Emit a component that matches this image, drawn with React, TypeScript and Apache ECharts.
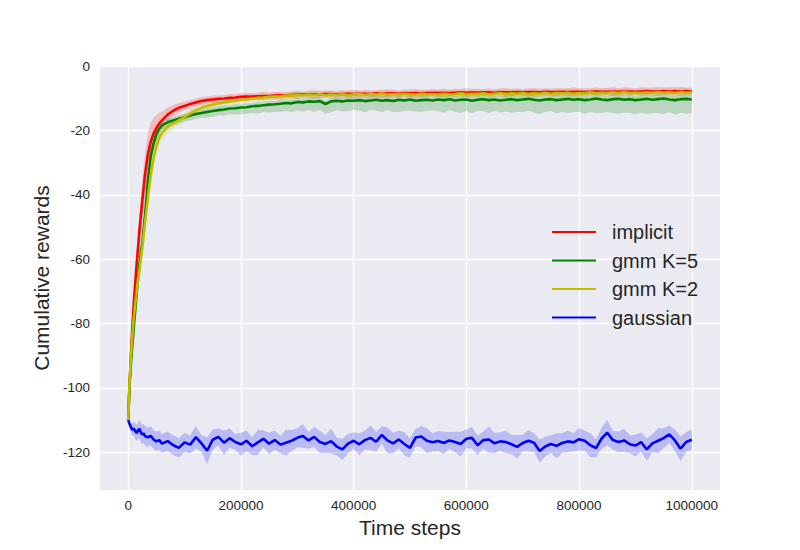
import React, { useEffect, useRef } from "react";
import * as echarts from "echarts";

// Time steps in thousands
const stepsK = [
  0, 2.5, 5, 7.5, 10, 12.5, 15, 17.5, 20, 22.5, 25, 27.5, 30, 35, 40, 45, 50, 55, 60, 70, 80, 90, 100,
  110, 120, 130, 140, 150, 160, 170, 180, 190, 200,
  210, 220, 230, 240, 250, 260, 270, 280, 290, 300,
  310, 320, 330, 340, 350, 360, 370, 380, 390, 400,
  410, 420, 430, 440, 450, 460, 470, 480, 490, 500,
  510, 520, 530, 540, 550, 560, 570, 580, 590, 600,
  610, 620, 630, 640, 650, 660, 670, 680, 690, 700,
  710, 720, 730, 740, 750, 760, 770, 780, 790, 800,
  810, 820, 830, 840, 850, 860, 870, 880, 890, 900,
  910, 920, 930, 940, 950, 960, 970, 980, 990, 1000,
];

const implicitMean = [
  -110, -98.5, -89.5, -81, -73.5, -67.5, -61.5, -56.5, -51, -46.5, -42, -37.8, -33.5, -27.5, -23.5, -21, -19.3, -17.9, -16.9, -15.1, -13.9, -13.0, -12.4,
  -11.8, -11.3, -10.9, -10.6, -10.4, -10.2, -10.1, -9.9, -9.8, -9.6,
  -9.5, -9.5, -9.4, -9.3, -9.3, -9.2, -9.1, -9.1, -9.0, -8.9,
  -8.9, -8.8, -8.8, -8.8, -8.7, -8.7, -8.8, -8.7, -8.6, -8.7,
  -8.6, -8.6, -8.7, -8.5, -8.6, -8.5, -8.5, -8.6, -8.4, -8.5,
  -8.4, -8.5, -8.4, -8.3, -8.4, -8.3, -8.4, -8.3, -8.2, -8.3,
  -8.2, -8.3, -8.2, -8.2, -8.3, -8.1, -8.2, -8.2, -8.1, -8.2,
  -8.1, -8.1, -8.2, -8.0, -8.1, -8.1, -8.0, -8.1, -8.0, -8.0,
  -8.1, -8.0, -7.9, -8.0, -8.0, -7.9, -8.0, -7.9, -7.9, -8.0,
  -7.9, -7.8, -7.9, -7.9, -7.8, -7.9, -7.8, -7.9, -7.8, -7.9,
];
const implicitSpread = [
  0.5, 1.5, 2.5, 3, 3.5, 4, 4.5, 5, 5.5, 6, 6.5, 6.5, 6.5, 6.5, 6, 5, 4, 3.3, 2.8, 2.2, 1.8, 1.6, 1.4,
  1.3, 1.2, 1.3, 1.1, 1.2, 1.0, 1.1, 1.2, 1.0, 1.1,
  1.2, 1.0, 1.1, 1.3, 1.0, 1.1, 1.2, 1.0, 1.1, 1.2,
  1.0, 1.1, 1.3, 1.0, 1.2, 1.1, 1.0, 1.2, 1.1, 1.3,
  1.0, 1.2, 1.1, 1.0, 1.3, 1.1, 1.2, 1.0, 1.1, 1.2,
  1.3, 1.1, 1.0, 1.2, 1.1, 1.3, 1.0, 1.2, 1.1, 1.4,
  1.1, 1.2, 1.0, 1.3, 1.1, 1.2, 1.4, 1.1, 1.2, 1.0,
  1.2, 1.3, 1.1, 1.2, 1.0, 1.3, 1.1, 1.2, 1.4, 1.1,
  1.2, 1.0, 1.3, 1.1, 1.2, 1.4, 1.1, 1.3, 1.2, 1.0,
  1.3, 1.1, 1.2, 1.4, 1.1, 1.3, 1.2, 1.4, 1.1, 1.3,
];

const gmm5Mean = [
  -110, -99, -92, -86.5, -81, -76, -71, -66, -61.5, -58, -55, -50.5, -46, -35.5, -28, -24, -21.2, -19.5, -18.4, -17.5, -16.9, -16.4, -15.9,
  -15.4, -14.9, -14.6, -14.3, -14.0, -13.7, -13.5, -13.2, -13.1, -12.9,
  -12.8, -12.5, -12.4, -12.2, -12.0, -11.9, -11.7, -11.5, -11.6, -11.2,
  -11.3, -11.0, -11.1, -10.9, -11.8, -11.0, -10.8, -11.0, -10.7, -10.8,
  -10.6, -10.9, -10.7, -10.5, -10.8, -10.6, -10.9, -10.5, -10.7, -10.4,
  -10.8, -10.6, -10.5, -10.7, -10.4, -10.6, -10.3, -10.7, -10.5, -10.4,
  -10.8, -10.5, -10.3, -10.6, -10.4, -10.7, -10.5, -10.3, -10.6, -10.4,
  -10.2, -10.5, -10.7, -10.4, -10.3, -10.6, -10.4, -10.2, -10.5, -10.3,
  -10.6, -10.4, -10.1, -10.4, -10.6, -10.3, -10.2, -10.5, -10.3, -10.6,
  -10.4, -10.2, -10.5, -10.3, -10.1, -10.4, -10.6, -10.3, -10.2, -10.4,
];
const gmm5Up = [
  0.5, 1, 1.5, 1.5, 2, 2, 2, 2, 2, 2, 2, 2, 2, 2, 2, 1.8, 1.5, 1.3, 1.2, 1.1, 1.0, 1.0, 1.0,
  1.0, 1.1, 0.9, 1.2, 1.0, 1.1, 1.3, 1.0, 1.2, 1.1,
  1.2, 1.0, 1.3, 1.1, 1.2, 1.0, 1.4, 1.1, 1.2, 1.3,
  1.1, 1.3, 1.2, 1.4, 1.1, 1.2, 1.3, 1.1, 1.4, 1.2,
  1.3, 1.1, 1.4, 1.2, 1.3, 1.5, 1.2, 1.3, 1.1, 1.4,
  1.2, 1.4, 1.3, 1.1, 1.5, 1.2, 1.3, 1.4, 1.2, 1.3,
  1.5, 1.2, 1.4, 1.3, 1.1, 1.4, 1.3, 1.5, 1.2, 1.4,
  1.3, 1.5, 1.2, 1.4, 1.3, 1.6, 1.2, 1.4, 1.3, 1.5,
  1.2, 1.4, 1.6, 1.3, 1.2, 1.5, 1.4, 1.3, 1.5, 1.2,
  1.4, 1.6, 1.3, 1.5, 1.4, 1.2, 1.5, 1.3, 1.6, 1.4,
];
const gmm5Down = [
  0.5, 1, 1.5, 1.5, 2, 2, 2, 2, 2, 2, 2, 2, 2, 2, 2, 1.8, 1.5, 1.4, 1.3, 1.3, 1.3, 1.3, 1.4,
  1.5, 1.6, 1.5, 1.7, 1.8, 1.6, 1.9, 1.8, 2.0, 2.1,
  2.0, 2.2, 2.4, 2.1, 2.5, 2.3, 2.6, 2.4, 2.8, 2.6,
  2.9, 2.7, 3.2, 2.8, 3.0, 3.4, 2.9, 3.1, 3.3, 2.8,
  3.2, 3.5, 3.0, 3.3, 3.6, 3.1, 3.4, 3.8, 3.2, 3.5,
  3.3, 3.7, 3.4, 3.1, 3.6, 3.9, 3.4, 3.5, 4.1, 3.6,
  3.8, 3.4, 3.7, 4.0, 3.5, 3.8, 3.6, 4.2, 3.7, 3.9,
  3.6, 4.0, 4.3, 3.8, 3.7, 4.1, 3.9, 4.4, 3.8, 4.0,
  4.2, 3.9, 4.5, 4.1, 3.8, 4.3, 4.6, 4.0, 4.2, 4.4,
  4.1, 4.7, 4.2, 4.4, 4.8, 4.0, 4.5, 4.3, 4.6, 4.2,
];

const gmm2Mean = [
  -110, -98, -90, -83.5, -78, -74, -70, -66.5, -63.5, -60, -56.5, -52.5, -48.5, -41, -34, -28.5, -25, -22.3, -20.8, -18.9, -17.8, -16.8, -15.9,
  -14.8, -13.8, -13.0, -12.4, -12.0, -11.6, -11.3, -11.0, -10.8, -10.5,
  -10.3, -10.1, -9.9, -9.8, -9.6, -9.5, -9.4, -9.2, -9.2, -9.0,
  -9.1, -8.9, -9.0, -8.8, -9.1, -8.9, -9.0, -8.8, -9.1, -8.9,
  -8.7, -9.0, -8.8, -8.9, -8.6, -8.9, -8.7, -8.9, -8.6, -8.8,
  -8.9, -8.6, -8.8, -8.7, -8.9, -8.6, -8.8, -8.7, -8.5, -8.8,
  -8.6, -8.7, -8.5, -8.8, -8.6, -8.4, -8.7, -8.5, -8.6, -8.4,
  -8.7, -8.5, -8.6, -8.3, -8.6, -8.4, -8.5, -8.3, -8.6, -8.4,
  -8.5, -8.2, -8.5, -8.3, -8.4, -8.2, -8.5, -8.1, -8.4, -8.3,
  -8.4, -8.2, -8.4, -8.1, -8.3, -8.2, -8.4, -8.1, -8.3, -8.2,
];
const gmm2Spread = [
  0.5, 1.5, 2, 2.5, 3, 3, 3, 3, 3, 3, 3, 3, 3, 3, 3, 2.8, 2.5, 2.2, 2, 1.8, 1.6, 1.5, 1.4,
  1.4, 1.3, 1.2, 1.3, 1.1, 1.2, 1.0, 1.1, 1.2, 1.0,
  1.1, 0.9, 1.0, 1.2, 1.0, 1.1, 0.9, 1.0, 1.2, 1.0,
  1.1, 0.9, 1.2, 1.0, 1.1, 1.3, 1.0, 0.9, 1.1, 1.2,
  1.0, 1.1, 0.9, 1.2, 1.0, 1.3, 1.1, 1.0, 0.9, 1.2,
  1.1, 1.0, 1.2, 0.9, 1.1, 1.0, 1.3, 1.1, 1.0, 1.2,
  0.9, 1.1, 1.0, 1.2, 1.1, 0.9, 1.3, 1.0, 1.1, 1.2,
  1.0, 1.2, 1.1, 0.9, 1.3, 1.0, 1.1, 1.2, 1.0, 1.3,
  1.1, 1.0, 1.2, 1.1, 1.3, 1.0, 1.2, 1.1, 1.4, 1.0,
  1.2, 1.1, 1.3, 1.0, 1.2, 1.4, 1.1, 1.3, 1.2, 1.1,
];

const gaussianMean = [
  -110, -111.2, -112.3, -113, -112.6, -113.4, -114, -113.2, -112.7, -113.8, -114.5, -114.1, -115, -115.3, -114.9, -116, -116.6, -116.2, -117.3, -116.5, -117.8, -118.6, -116.9,
  -117.6, -115.3, -117.2, -119.5, -116.1, -115.2, -117.0, -115.6, -116.8, -117.5,
  -116.4, -118.1, -116.9, -115.8, -117.3, -116.2, -117.6, -117.0, -116.4, -115.5,
  -114.9, -116.3, -115.2, -116.8, -117.4, -116.5, -118.2, -119.1, -117.3, -116.4,
  -117.5, -116.2, -115.5, -116.7, -114.6, -116.3, -117.2, -116.0, -117.4, -118.6,
  -115.4, -115.1, -116.4, -116.9, -116.5, -117.1, -116.3, -116.8, -117.4, -115.8,
  -115.5, -117.8, -116.2, -116.0, -117.2, -116.6, -116.8, -117.5, -118.3, -117.1,
  -116.4, -117.0, -119.6, -118.2, -117.4, -118.0, -117.1, -116.6, -116.9, -115.9,
  -116.4, -117.8, -118.7, -115.7, -113.9, -116.2, -116.8, -116.3, -117.5, -117.9,
  -116.8, -119.1, -117.2, -116.4, -115.6, -114.4, -116.3, -118.9, -116.8, -116.1,
];
const gaussianSpread = [
  0.5, 1, 1.5, 2, 2, 2.5, 2.5, 2.5, 3, 3, 3, 3, 3, 3, 3, 3, 3, 3, 3, 3, 3, 3, 3,
  2.8, 3.5, 2.6, 4.2, 3.1, 2.7, 3.8, 3.0, 2.5, 3.6,
  3.2, 2.8, 3.9, 2.6, 3.4, 3.0, 2.7, 4.1, 3.3, 2.9,
  3.7, 2.6, 3.1, 3.5, 2.8, 3.9, 2.7, 3.3, 3.0, 2.6,
  3.4, 2.9, 3.8, 3.1, 2.7, 4.0, 3.2, 2.8, 3.6, 3.0,
  2.7, 3.3, 3.9, 2.8, 3.1, 3.5, 2.6, 3.2, 3.8, 2.9,
  3.4, 3.0, 2.7, 4.1, 3.2, 2.8, 3.5, 3.0, 3.7, 2.6,
  3.3, 2.9, 3.6, 3.1, 2.7, 3.9, 3.0, 3.4, 2.8, 3.5,
  3.1, 3.7, 2.8, 3.3, 4.0, 2.9, 3.2, 3.6, 2.7, 3.4,
  3.0, 3.5, 2.8, 3.9, 3.1, 2.7, 3.4, 3.8, 3.0, 3.2,
];

const xTicks = [0, 200000, 400000, 600000, 800000, 1000000];
const yTicks = [-120, -100, -80, -60, -40, -20, 0];

const FONT = "'Liberation Sans', Arial, 'DejaVu Sans', sans-serif";
const TEXT = "#262626";

type Curve = {
  name: string;
  color: string;
  mean: number[];
  up: number[];
  down: number[];
};

const curves: Curve[] = [
  { name: "implicit", color: "#ff0000", mean: implicitMean, up: implicitSpread, down: implicitSpread },
  { name: "gmm K=5", color: "#008000", mean: gmm5Mean, up: gmm5Up, down: gmm5Down },
  { name: "gmm K=2", color: "#bfbf00", mean: gmm2Mean, up: gmm2Spread, down: gmm2Spread },
  { name: "gaussian", color: "#0000ff", mean: gaussianMean, up: gaussianSpread, down: gaussianSpread },
];

function hexToRgba(hex: string, a: number) {
  const v = parseInt(hex.slice(1), 16);
  return `rgba(${(v >> 16) & 255},${(v >> 8) & 255},${v & 255},${a})`;
}

function buildSeries() {
  const series: any[] = [];
  curves.forEach((c) => {
    const n = Math.min(stepsK.length, c.mean.length, c.up.length, c.down.length);
    series.push({
      type: "custom",
      name: c.name + " band",
      silent: true,
      clip: true,
      data: [[0, c.mean[0]]],
      encode: { x: 0, y: 1 },
      renderItem: (_params: any, api: any) => {
        const upper: number[][] = [];
        const lower: number[][] = [];
        for (let i = 0; i < n; i++) {
          upper.push(api.coord([stepsK[i] * 1000, c.mean[i] + c.up[i]]));
          lower.push(api.coord([stepsK[i] * 1000, c.mean[i] - c.down[i]]));
        }
        return {
          type: "polygon",
          shape: { points: upper.concat(lower.reverse()) },
          style: { fill: hexToRgba(c.color, 0.2), stroke: "none" },
          silent: true,
        };
      },
    });
    const data: number[][] = [];
    for (let i = 0; i < n; i++) data.push([stepsK[i] * 1000, c.mean[i]]);
    series.push({
      type: "line",
      name: c.name,
      data,
      showSymbol: false,
      symbol: "none",
      color: c.color,
      lineStyle: { color: c.color, width: 2.6 },
      itemStyle: { color: c.color },
      clip: true,
      emphasis: { disabled: true },
    });
  });
  return series;
}

export default function App() {
  const ref = useRef<HTMLDivElement>(null);
  useEffect(() => {
    if (!ref.current) return;
    const chart = echarts.init(ref.current, undefined, { renderer: "svg" });
    chart.setOption({
      animation: false,
      backgroundColor: "#ffffff",
      textStyle: { fontFamily: FONT },
      grid: {
        left: 100,
        right: 80,
        top: 66,
        bottom: 60,
        show: true,
        backgroundColor: "#EAEAF2",
        borderWidth: 0,
      },
      legend: {
        orient: "vertical",
        left: 547,
        top: 217,
        icon: "rect",
        itemWidth: 44,
        itemHeight: 2,
        itemGap: 8.5,
        data: curves.map((c) => c.name),
        textStyle: { fontSize: 20, color: TEXT, fontFamily: FONT, padding: [0, 0, 0, 11] },
        selectedMode: false,
      },
      xAxis: {
        type: "value",
        min: -50000,
        max: 1050000,
        name: "Time steps",
        nameLocation: "middle",
        nameGap: 23,
        nameTextStyle: { fontSize: 21, color: TEXT, fontFamily: FONT },
        axisLine: { show: false },
        axisTick: { show: false, customValues: xTicks },
        axisLabel: {
          customValues: xTicks,
          fontSize: 13.5,
          color: TEXT,
          margin: 8,
          fontFamily: FONT,
          formatter: (v: number) => String(v),
        },
        splitLine: { show: true, lineStyle: { color: "#ffffff", width: 1.4 } },
      },
      yAxis: {
        type: "value",
        min: -131.7,
        max: 0,
        name: "Cumulative rewards",
        nameLocation: "middle",
        nameGap: 48,
        nameTextStyle: { fontSize: 21, color: TEXT, fontFamily: FONT },
        axisLine: { show: false },
        axisTick: { show: false, customValues: yTicks },
        axisLabel: {
          customValues: yTicks,
          fontSize: 13.5,
          color: TEXT,
          margin: 10,
          fontFamily: FONT,
          formatter: (v: number) => String(v),
        },
        splitLine: { show: true, lineStyle: { color: "#ffffff", width: 1.4 } },
      },
      series: buildSeries(),
    });
    return () => chart.dispose();
  }, []);
  return (
    <div
      ref={ref}
      style={{ position: "fixed", left: 0, top: 0, width: 800, height: 550, background: "#fff" }}
    />
  );
}
